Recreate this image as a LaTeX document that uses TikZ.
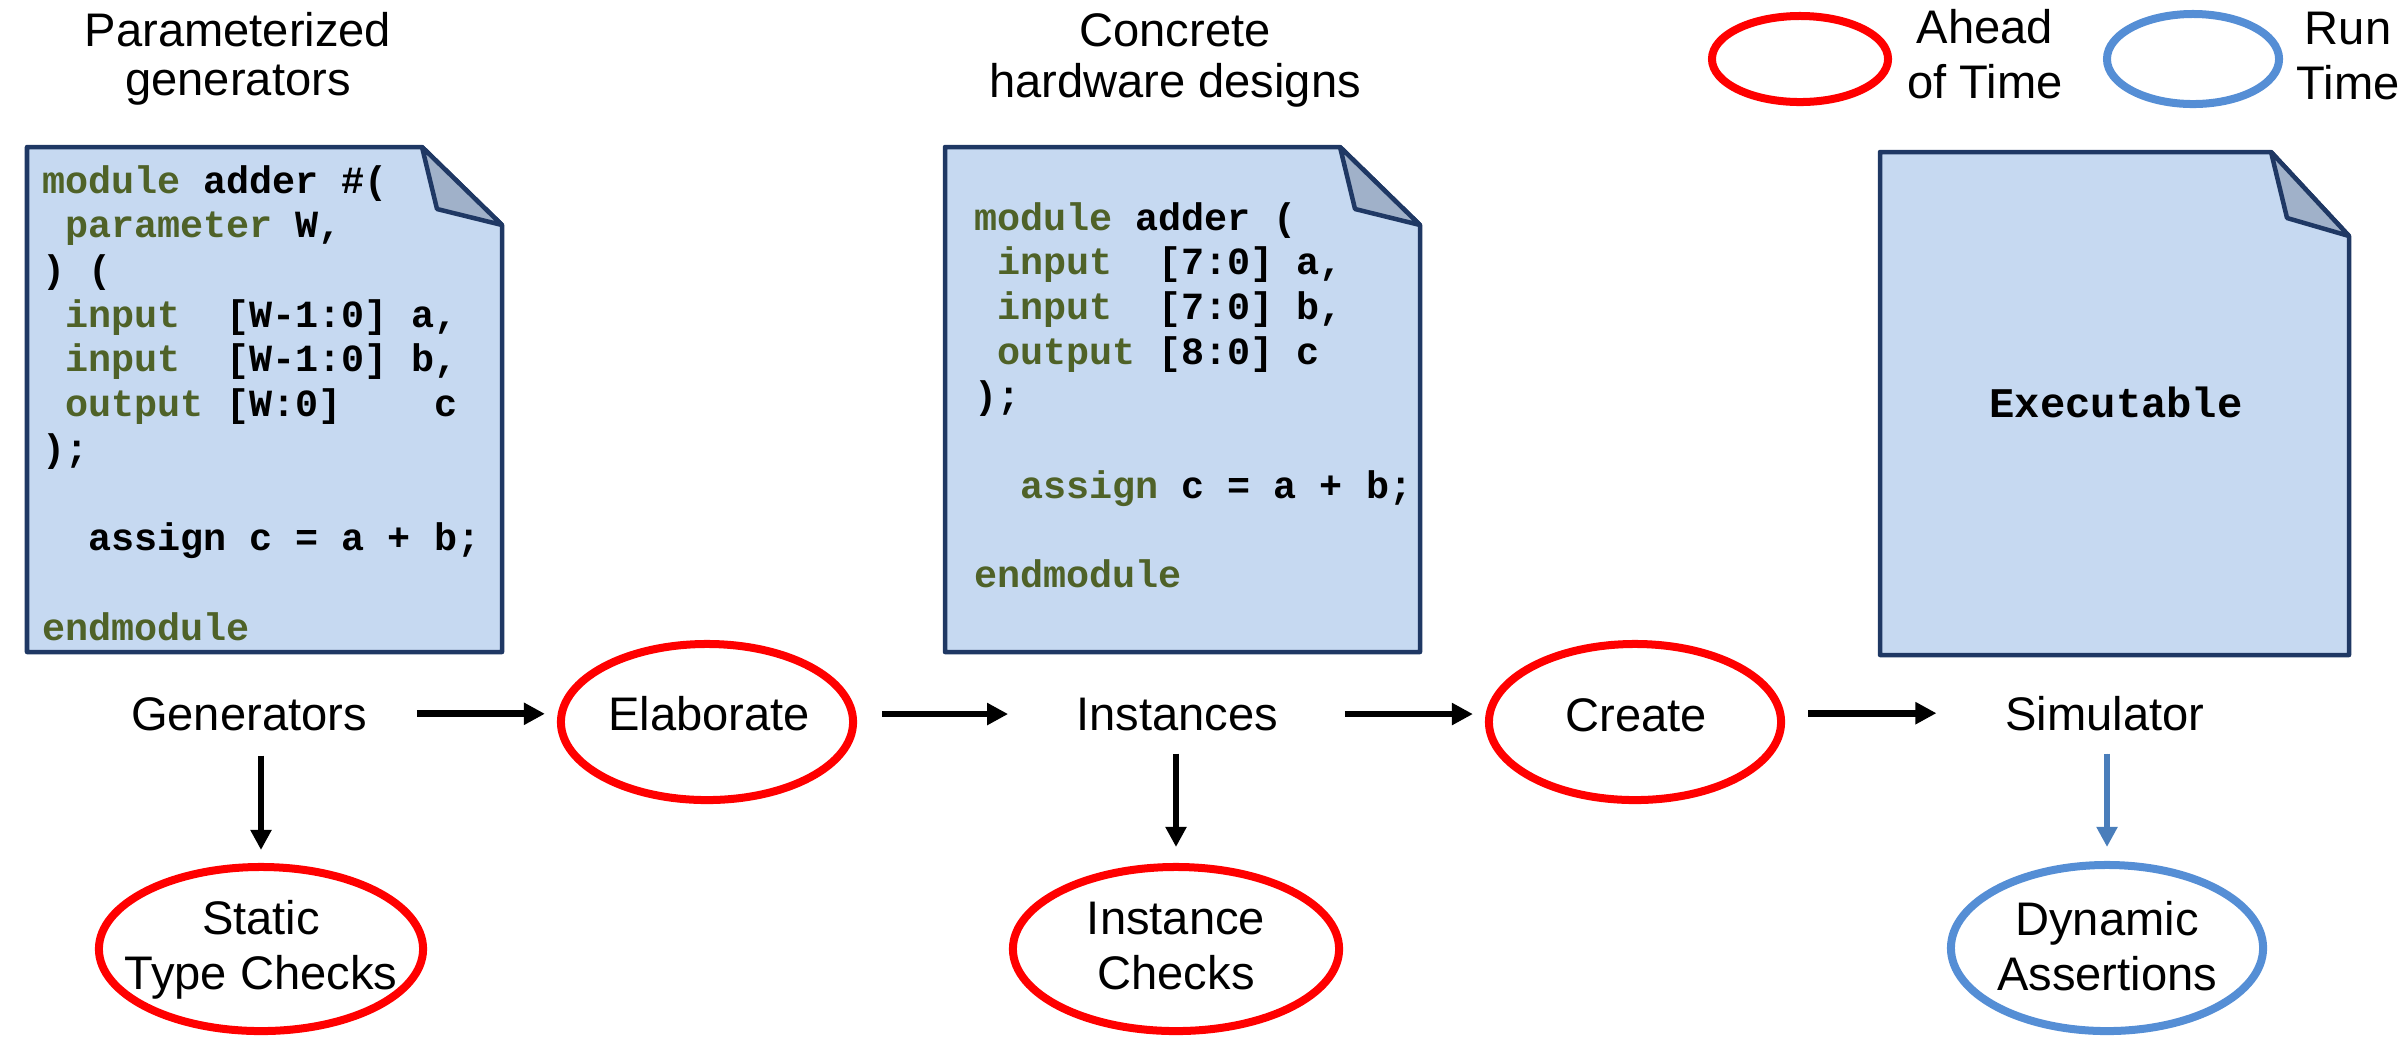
\documentclass[tikz,border=0pt]{standalone}
\usepackage{fontspec}
\setmainfont{Liberation Sans}
\setmonofont{Liberation Mono}
\usetikzlibrary{arrows.meta,shapes.geometric}

\definecolor{docfill}{HTML}{C6D9F1}
\definecolor{docline}{HTML}{1F3864}
\definecolor{foldfill}{HTML}{A0B1C9}
\definecolor{kwgreen}{HTML}{4F6228}
\definecolor{ovred}{HTML}{FF0000}
\definecolor{ovblue}{HTML}{558ED5}
\definecolor{arrblue}{HTML}{4A7EBB}

\newcommand\kw[1]{\textcolor{kwgreen}{#1}}
\newcommand\lblfont{\fontsize{13.4pt}{16pt}\selectfont}
\newcommand\codefont{\ttfamily\bfseries\fontsize{10.93pt}{12.72pt}\selectfont}
\newcommand\exefont{\ttfamily\bfseries\fontsize{12pt}{14pt}\selectfont}
% two centred lines whose baseline is the first line's baseline
\newcommand\twoline[3]{\vtop{\baselineskip=#3\relax\halign{\hfil##\hfil\cr#1\cr#2\cr}}}
% a block of code lines, baseline on the first line
\newcommand\codeblock[1]{\vtop{\baselineskip=12.72pt\relax #1}}

\tikzset{
  lbl/.style={font=\lblfont, inner sep=0pt, outer sep=0pt, anchor=base},
  redoval/.style={ellipse, draw=ovred, line width=0.08cm, inner sep=0pt},
  blueoval/.style={ellipse, draw=ovblue, line width=0.08cm, inner sep=0pt},
  arr/.style={line width=0.06cm, -{Triangle[length=0.2cm,width=0.2cm]}},
  harr/.style={arr, line width=0.068cm, -{Triangle[length=0.21cm,width=0.21cm]}},
  bluearr/.style={arr, draw=arrblue, fill=arrblue},
  docpage/.style={fill=docfill, draw=docline, line width=0.045cm, line join=round},
  docfold/.style={fill=foldfill, draw=docline, line width=0.045cm, line join=round},
  code/.style={font=\codefont, inner sep=0pt, outer sep=0pt, anchor=base west},
}

\begin{document}
\begin{tikzpicture}[x=0.01cm, y=-0.01cm]
\useasboundingbox (0,0) rectangle (2407,1038);

% ---- document sheets with folded corner ----
\draw[docpage] (27,147) -- (422,147) -- (502,225) -- (502,652) -- (27,652) -- cycle;
\draw[docfold] (422,147) -- (437,209) -- (502,225) -- cycle;

\draw[docpage] (945,147) -- (1340,147) -- (1420,225) -- (1420,652) -- (945,652) -- cycle;
\draw[docfold] (1340,147) -- (1355,209) -- (1420,225) -- cycle;

\draw[docpage] (1880,152) -- (2271,152) -- (2349,236) -- (2349,655) -- (1880,655) -- cycle;
\draw[docfold] (2271,152) -- (2287,218) -- (2349,236) -- cycle;

% ---- code listings ----
\node[code] (gencode) at (42,193) {\codeblock{%
  \hbox{\kw{module}\ adder\ \#(}
  \hbox{\ \kw{parameter}\ W,}
  \hbox{)\ (}
  \hbox{\ \kw{input}\ \ [W-1:0]\ a,}
  \hbox{\ \kw{input}\ \ [W-1:0]\ b,}
  \hbox{\ \kw{output}\ [W:0]\ \ \ \ c}
  \hbox{);}
  \hbox{}
  \hbox{\ \ assign\ c\ =\ a\ +\ b;}
  \hbox{}
  \hbox{\kw{endmodule}}}};

\node[code] (instcode) at (974,230) {\codeblock{%
  \hbox{\kw{module}\ adder\ (}
  \hbox{\ \kw{input}\ \ [7:0]\ a,}
  \hbox{\ \kw{input}\ \ [7:0]\ b,}
  \hbox{\ \kw{output}\ [8:0]\ c}
  \hbox{);}
  \hbox{}
  \hbox{\ \ \kw{assign}\ c\ =\ a\ +\ b;}
  \hbox{}
  \hbox{\kw{endmodule}}}};

\node[font=\exefont, inner sep=0pt] (exe) at (2116,402) {Executable};

% ---- headings ----
\node[lbl] (head1) at (238,46) {\twoline{Parameterized}{generators}{14.2pt}};
\node[lbl] (head2) at (1175,46) {\twoline{Concrete}{hardware designs}{14.6pt}};

% ---- legend ----
\node[redoval, minimum width=1.76cm, minimum height=0.86cm] (legred) at (1800,59) {};
\node[lbl] (legredtxt) at (1985,43) {\twoline{Ahead}{of Time}{15.65pt}};
\node[blueoval, minimum width=1.72cm, minimum height=0.9cm] (legblue) at (2193,59) {};
\node[lbl] (legbluetxt) at (2348,44) {\twoline{Run}{Time}{15.65pt}};

% ---- flow row ----
\node[lbl] (gen) at (249,730) {Generators};
\node[redoval, minimum width=2.92cm, minimum height=1.56cm] (elab) at (707,722) {};
\node[lbl] (elabtxt) at (709,730) {Elaborate};
\node[lbl] (inst) at (1177,730) {Instances};
\node[redoval, minimum width=2.92cm, minimum height=1.56cm] (create) at (1635,722) {};
\node[lbl] (createtxt) at (1636,731) {Create};
\node[lbl] (sim) at (2105,730) {Simulator};

% ---- checks row ----
\node[redoval, minimum width=3.24cm, minimum height=1.64cm] (static) at (261,949) {};
\node[lbl] (statictxt) at (261,934) {\twoline{Static}{Type Checks}{15.9pt}};
\node[redoval, minimum width=3.26cm, minimum height=1.64cm] (ichk) at (1176,949) {};
\node[lbl] (ichktxt) at (1176,934) {\twoline{Instance}{Checks}{15.9pt}};
\node[blueoval, minimum width=3.12cm, minimum height=1.66cm] (dyn) at (2107,948) {};
\node[lbl] (dyntxt) at (2107,935) {\twoline{Dynamic}{Assertions}{15.9pt}};

% ---- connectors ----
\draw[harr, shorten <=0.5cm, shorten >=0.12cm] (gen.east) -- (gen.east -| elab.west);
\draw[harr, shorten <=0.25cm, shorten >=0.68cm] (inst.west -| elab.east) -- (inst.west);
\draw[harr, shorten <=0.67cm, shorten >=0.12cm] (inst.east) -- (inst.east -| create.west);
\draw[harr, shorten <=0.23cm, shorten >=0.69cm] (sim.west -| create.east) -- (sim.west);

\draw[arr, shorten <=0.25cm, shorten >=0.13cm] (gen.south -| static.north) -- (static.north);
\draw[arr, shorten <=0.23cm, shorten >=0.16cm] (inst.south -| ichk.north) -- (ichk.north);
\draw[bluearr, shorten <=0.23cm, shorten >=0.14cm] (sim.south -| dyn.north) -- (dyn.north);
\end{tikzpicture}
\end{document}
